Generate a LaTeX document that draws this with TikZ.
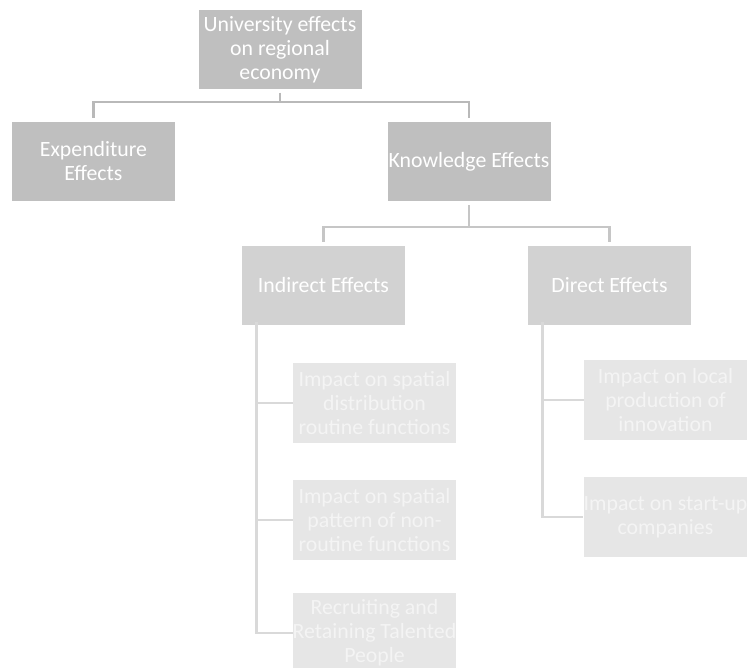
\documentclass[tikz,border=0pt]{standalone}
\usepackage{fontspec}
\setmainfont{Carlito}
\definecolor{fillA}{HTML}{BFBFBF}
\definecolor{fillB}{HTML}{D2D2D2}
\definecolor{fillC}{HTML}{E6E6E6}
\definecolor{lineA}{HTML}{B9B9B9}
\definecolor{lineB}{HTML}{C6C6C6}
\definecolor{lineC}{HTML}{D9D9D9}
\definecolor{textC}{HTML}{F4F4F4}
\begin{document}
\begin{tikzpicture}[x=1pt,y=-1pt,
  box/.style={minimum width=163pt, minimum height=79pt, inner sep=0pt, align=center,
    text=white, font=\fontsize{21.8}{24}\selectfont},
  lvA/.style={box, fill=fillA},
  lvB/.style={box, fill=fillB},
  lvC/.style={box, fill=fillC, minimum height=80pt, text=textC},
  connA/.style={draw=lineA, line width=2.8pt},
  connB/.style={draw=lineB, line width=2.8pt},
  connC/.style={draw=lineC, line width=2.8pt}]
\useasboundingbox (0,0) rectangle (747,668);
\clip (0,0) rectangle (747,668);
% nodes
\node[lvA] (top) at (280,50) {University effects\\on regional\\economy};
\node[lvA] (exp) at (93.5,161.5) {Expenditure\\Effects};
\node[lvA] (know) at (469,161.5) {Knowledge Effects};
\node[lvB] (ind) at (323.5,285.5) {Indirect Effects};
\node[lvB] (dir) at (609.5,285.5) {Direct Effects};
\node[lvC] (i1) at (374.5,403) {Impact on spatial\\distribution\\routine functions};
\node[lvC] (i2) at (374.5,520) {Impact on spatial\\pattern of non-\\routine functions};
\node[lvC] (i3) at (374.5,633) {Recruiting and\\Retaining Talented\\People};
\node[lvC] (d1) at (665.5,400) {Impact on local\\production of\\innovation};
\node[lvC] (d2) at (665.5,517) {Impact on start-up\\companies};
% junctions
\coordinate (j1) at (280,102);
\coordinate (j2) at (469,227);
\coordinate (it) at ([xshift=15pt,yshift=3pt]ind.south west);
\coordinate (dt) at ([xshift=15pt,yshift=3pt]dir.south west);
% connectors level 1
\draw[connA, shorten <=3pt] (top.south) -- (j1);
\draw[connA, shorten >=4pt] (j1) -| (exp.north);
\draw[connA, shorten >=4pt] (j1) -| (know.north);
% level 2
\draw[connB, shorten <=4pt] (know.south) -- (j2);
\draw[connB, shorten >=4pt] (j2) -| (ind.north);
\draw[connB, shorten >=4pt] (j2) -| (dir.north);
% level 3
\draw[connC] (it) |- (i3.west);
\draw[connC] (it |- i1.west) -- (i1.west);
\draw[connC] (it |- i2.west) -- (i2.west);
\draw[connC] (dt) |- (d2.west);
\draw[connC] (dt |- d1.west) -- (d1.west);
\end{tikzpicture}
\end{document}
